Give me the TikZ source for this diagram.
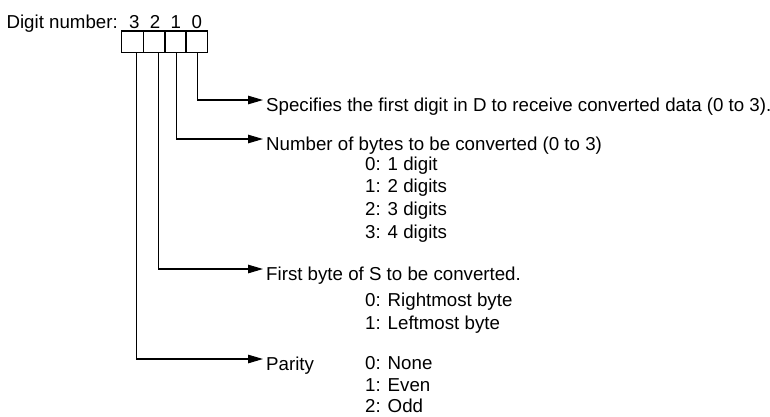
\documentclass[tikz,border=0pt]{standalone}
\usepackage{fontspec}
\setmainfont{Liberation Sans}
\usetikzlibrary{arrows.meta}

\tikzset{
  txt/.style={inner sep=0pt, font=\fontsize{18.7}{22}\selectfont},
  lead/.style={line width=1.1pt, -{Triangle[length=15pt,width=8.5pt]}},
  cellline/.style={line width=1.1pt},
}

\begin{document}
\begin{tikzpicture}[x=1pt,y=-1pt]
  \useasboundingbox (0,0) rectangle (770,416);

  % Coordinates
  \coordinate (C0) at (121.7,31.0);
  \coordinate (C1) at (143.7,31.0);
  \coordinate (C2) at (165.0,31.0);
  \coordinate (C3) at (186.0,31.0);
  \coordinate (C4) at (207.7,52.3);
  \coordinate (S3) at (136.7,52.3);
  \coordinate (S2) at (158.3,52.3);
  \coordinate (S1) at (176.7,52.3);
  \coordinate (S0) at (197.3,52.3);
  \coordinate (T0) at (263.0,100.0);
  \coordinate (T1) at (263.0,139.0);
  \coordinate (T2) at (263.0,269.0);
  \coordinate (T3) at (263.0,359.0);

  % Texts
  \node[txt, anchor=base east] (dn) at (118,28.3) {Digit number:};
  \node[txt, anchor=base] (d3) at (134.3,28.3) {3};
  \node[txt, anchor=base] (d2) at (155.0,28.3) {2};
  \node[txt, anchor=base] (d1) at (175.7,28.3) {1};
  \node[txt, anchor=base] (d0) at (196.7,28.3) {0};

  \node[txt, anchor=base west] (first) at (266,111) {Specifies the first digit in D to receive converted data (0 to 3).};
  \node[txt, anchor=base west] (bytes) at (266,150) {Number of bytes to be converted (0 to 3)};
  \node[txt, anchor=base west] (b0) at (365,170.0) {0: 1 digit};
  \node[txt, anchor=base west] (b1) at (365,192.7) {1: 2 digits};
  \node[txt, anchor=base west] (b2) at (365,215.4) {2: 3 digits};
  \node[txt, anchor=base west] (b3) at (365,238.0) {3: 4 digits};
  \node[txt, anchor=base west] (fbyte) at (266,280) {First byte of S to be converted.};
  \node[txt, anchor=base west] (f0) at (365,306.7) {0: Rightmost byte};
  \node[txt, anchor=base west] (f1) at (365,329.0) {1: Leftmost byte};
  \node[txt, anchor=base west] (par) at (266,370) {Parity};
  \node[txt, anchor=base west] (p0) at (365,369.5) {0: None};
  \node[txt, anchor=base west] (p1) at (365,391.0) {1: Even};
  \node[txt, anchor=base west] (p2) at (365,412.5) {2: Odd};

  % Drawing
  \draw[cellline] (C0) rectangle (C4);
  \draw[cellline] (C1) -- (C1 |- C4);
  \draw[cellline] (C2) -- (C2 |- C4);
  \draw[cellline] (C3) -- (C3 |- C4);
  \draw[lead] (S0) |- (T0);
  \draw[lead] (S1) |- (T1);
  \draw[lead] (S2) |- (T2);
  \draw[lead] (S3) |- (T3);
\end{tikzpicture}
\end{document}
